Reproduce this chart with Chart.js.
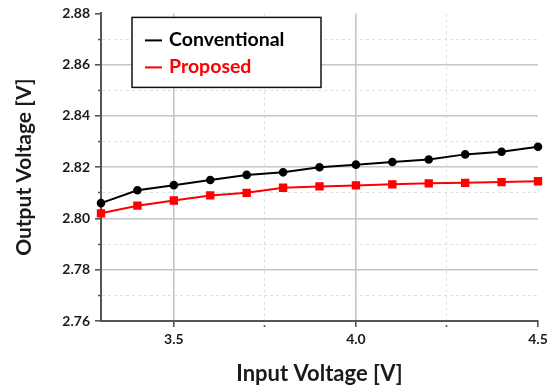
<!DOCTYPE html>
<html><head><meta charset="utf-8">
<script src="https://cdn.jsdelivr.net/npm/chart.js@4/dist/chart.umd.min.js"></script>
<style>html,body{margin:0;padding:0;background:#fff}#wrap{width:559px;height:391px;position:relative}</style>
</head><body><div id="wrap"><canvas id="c" width="559" height="391"></canvas></div>
<script>
const inputVoltage = [3.3, 3.4, 3.5, 3.6, 3.7, 3.8, 3.9, 4.0, 4.1, 4.2, 4.3, 4.4, 4.5];
const conventional = [2.806, 2.811, 2.813, 2.815, 2.817, 2.818, 2.820, 2.821, 2.822, 2.823, 2.825, 2.826, 2.828];
const proposed = [2.802, 2.805, 2.807, 2.809, 2.810, 2.812, 2.8125, 2.8129, 2.8133, 2.8137, 2.8139, 2.8142, 2.8145];
const seriesLabels = ['Conventional', 'Proposed'];
const xMajorTicks = [3.5, 4.0, 4.5];
const xMinorTicks = [3.75, 4.25];
const yMajorTicks = [2.76, 2.78, 2.80, 2.82, 2.84, 2.86, 2.88];
const yMinorTicks = [2.77, 2.79, 2.81, 2.83, 2.85, 2.87];
const xTitle = 'Input Voltage [V]';
const yTitle = 'Output Voltage [V]';

const FONT = 'Lato, "Open Sans", sans-serif';
const TEXT = '#1a1a1a';
const near = (a, b) => Math.abs(a - b) < 1e-6;
const isIn = (arr, v) => arr.some(a => near(a, v));

function buildTicks(major, minor) {
  return major.concat(minor).sort((a, b) => a - b).map(v => ({ value: v, major: isIn(major, v) }));
}

function gridOpts(major, maxVal) {
  return {
    drawTicks: true,
    tickLength: 6,
    color: ctx => {
      if (!ctx.tick) return 'transparent';
      if (near(ctx.tick.value, maxVal)) return 'transparent';
      return isIn(major, ctx.tick.value) ? '#c6c6c6' : '#d8e4e4';
    },
    lineWidth: ctx => (ctx.tick && isIn(major, ctx.tick.value)) ? 1.6 : 1,
    tickColor: '#555',
    tickWidth: 1.6,
    tickBorderDash: ctx => (ctx.tick && isIn(major, ctx.tick.value)) ? [] : [0, 3, 3, 100]
  };
}

const legendBox = {
  id: 'legendBox',
  afterDraw(chart) {
    const ctx = chart.ctx;
    const ca = chart.chartArea;
    const x = ca.left + 31, y = ca.top + 4, w = 189, h = 70;
    ctx.save();
    ctx.fillStyle = '#fff';
    ctx.fillRect(x, y, w, h);
    ctx.strokeStyle = '#111';
    ctx.lineWidth = 1.5;
    ctx.strokeRect(x, y, w, h);
    ctx.font = 'bold 19.5px ' + FONT;
    ctx.textBaseline = 'middle';
    chart.data.datasets.forEach((ds, i) => {
      const cy = y + 22 + i * 27;
      ctx.strokeStyle = ds.borderColor;
      ctx.lineWidth = 2;
      ctx.beginPath();
      ctx.moveTo(x + 13, cy + 1);
      ctx.lineTo(x + 30, cy + 1);
      ctx.stroke();
      ctx.fillStyle = ds.borderColor === '#000000' ? '#000' : ds.borderColor;
      ctx.fillText(ds.label, x + 37, cy);
    });
    ctx.restore();
  }
};

new Chart(document.getElementById('c'), {
  type: 'line',
  data: {
    datasets: [
      {
        label: seriesLabels[0],
        data: inputVoltage.map((v, i) => ({ x: v, y: conventional[i] })),
        borderColor: '#000000', backgroundColor: '#000000',
        borderWidth: 2, pointStyle: 'circle', pointRadius: 3.3, tension: 0
      },
      {
        label: seriesLabels[1],
        data: inputVoltage.map((v, i) => ({ x: v, y: proposed[i] })),
        borderColor: '#ff0000', backgroundColor: '#ff0000',
        borderWidth: 2, pointStyle: 'rect', pointRadius: 4.5, tension: 0
      }
    ]
  },
  options: {
    responsive: false,
    animation: false,
    clip: false,
    layout: { padding: { left: 0, right: 21, top: 6, bottom: 0 } },
    plugins: { legend: { display: false }, tooltip: { enabled: false } },
    scales: {
      x: {
        type: 'linear', min: 3.3, max: 4.5,
        afterBuildTicks: axis => { axis.ticks = buildTicks(xMajorTicks, xMinorTicks); },
        afterFit: s => { s.height = 70; },
        ticks: {
          autoSkip: false, maxRotation: 0, padding: 4, color: TEXT,
          font: { family: FONT, size: 14, weight: 'bold' },
          callback: v => isIn(xMajorTicks, v) ? v.toFixed(1) : ''
        },
        grid: gridOpts(xMajorTicks, 4.5),
        border: { color: '#555', width: 2, dash: ctx => (ctx.tick && !isIn(xMajorTicks, ctx.tick.value)) ? [3, 3] : [] },
        title: { display: true, text: xTitle, color: TEXT, font: { family: FONT, size: 22, weight: 'bold' }, padding: { top: 6 } }
      },
      y: {
        type: 'linear', min: 2.76, max: 2.88,
        afterBuildTicks: axis => { axis.ticks = buildTicks(yMajorTicks, yMinorTicks); },
        afterFit: s => { s.width = 101; },
        ticks: {
          autoSkip: false, padding: 5, color: TEXT,
          font: { family: FONT, size: 14, weight: 'bold' },
          callback: v => isIn(yMajorTicks, v) ? v.toFixed(2) : ''
        },
        grid: gridOpts(yMajorTicks, 2.88),
        border: { color: '#555', width: 2, dash: ctx => (ctx.tick && !isIn(yMajorTicks, ctx.tick.value)) ? [3, 3] : [] },
        title: { display: true, text: yTitle, color: TEXT, font: { family: FONT, size: 21, weight: 'bold' }, padding: { top: 12, bottom: 4 } }
      }
    }
  },
  plugins: [legendBox]
});
</script>
</body></html>
